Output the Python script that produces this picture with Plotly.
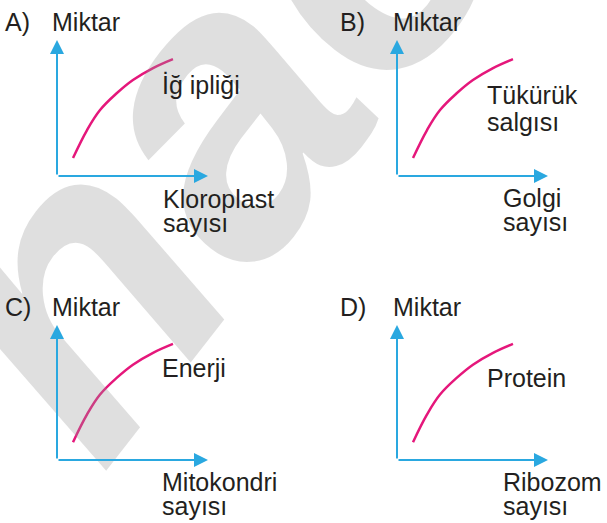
import plotly.graph_objects as go

W, H = 607, 523

# panel letters, x labels (two lines), curve labels
panels = ["A)", "B)", "C)", "D)"]
y_title = "Miktar"
curve_labels = [["İğ ipliği"], ["Tükürük", "salgısı"], ["Enerji"], ["Protein"]]
x_labels = [["Kloroplast", "sayısı"], ["Golgi", "sayısı"],
            ["Mitokondri", "sayısı"], ["Ribozom", "sayısı"]]

# curve (same shape in every panel), axes 0..1
curve_x = [0.106, 0.199, 0.285, 0.397, 0.503, 0.636, 0.768]
curve_y = [0.132, 0.338, 0.485, 0.610, 0.706, 0.794, 0.860]

BLUE = "#2aa8e0"
PINK = "#e5177b"
TXT = "#231f20"
FONT = "Liberation Sans"

# pixel geometry of each panel: origin x, origin y, x tip, y tip
geo = [(57, 176, 208, 40), (397, 176, 548, 40),
       (57, 460, 208, 325), (397, 460, 548, 325)]
# text positions in pixels (left x, centre y)
letter_pos = [(3, 22), (338, 22), (3, 307), (338, 307)]
title_pos = [(50, 22), (391, 22), (50, 307), (391, 307)]
curve_lab_pos = [(160, 85), (485, 95), (160, 368), (485, 378)]
xlab_pos = [(161, 199), (501, 198), (160, 482), (501, 482)]
line_gap = 24


def px(x):
    return x / W


def py(y):
    return 1 - y / H


fig = go.Figure()
annotations = []

# watermark
annotations.append(dict(
    text="<b><i>hac</i></b>", x=px(205), y=py(120), xref="paper", yref="paper",
    xanchor="center", yanchor="middle",
    showarrow=False, textangle=-52,
    font=dict(family=FONT, size=400, color="rgba(150,150,150,0.3)")))

for i in range(4):
    ox, oy, tx, ty = geo[i]
    n = str(i + 1) if i else ""
    xa, ya = "xaxis" + n, "yaxis" + n
    fig.update_layout(**{
        xa: dict(domain=[px(ox), px(tx)], range=[0, 1], visible=False,
                 anchor="y" + n, fixedrange=True),
        ya: dict(domain=[py(oy), py(ty)], range=[0, 1], visible=False,
                 anchor="x" + n, fixedrange=True),
    })
    fig.add_trace(go.Scatter(
        x=curve_x, y=curve_y, mode="lines", xaxis="x" + n, yaxis="y" + n,
        line=dict(color=PINK, width=2.5, shape="spline", smoothing=1.1),
        hoverinfo="skip", showlegend=False))

    # axis arrows
    for (x1, y1) in [(1, 0), (0, 1)]:
        annotations.append(dict(
            x=x1, y=y1, ax=0, ay=0, xref="x" + n, yref="y" + n,
            axref="x" + n, ayref="y" + n, text="", showarrow=True,
            arrowhead=2, arrowsize=1.4, arrowwidth=2, arrowcolor=BLUE))

    def label(t, pos, size=25):
        annotations.append(dict(
            text=t, x=px(pos[0]), y=py(pos[1]), xref="paper", yref="paper",
            xanchor="left", yanchor="middle", showarrow=False,
            font=dict(family=FONT, size=size, color=TXT)))

    label(panels[i], letter_pos[i])
    label(y_title, title_pos[i])
    cx, cy = curve_lab_pos[i]
    for k, t in enumerate(curve_labels[i]):
        label(t, (cx, cy + k * 27))
    lx, ly = xlab_pos[i]
    for k, t in enumerate(x_labels[i]):
        label(t, (lx, ly + k * line_gap))

fig.update_layout(
    width=W, height=H, margin=dict(l=0, r=0, t=0, b=0),
    paper_bgcolor="white", plot_bgcolor="white",
    annotations=annotations, showlegend=False)

# page body has a default 8px margin; drop it so the figure sits at 0,0
fig.write_html("out.html", config={"displayModeBar": False},
               post_script="document.body.style.margin = '0';")
